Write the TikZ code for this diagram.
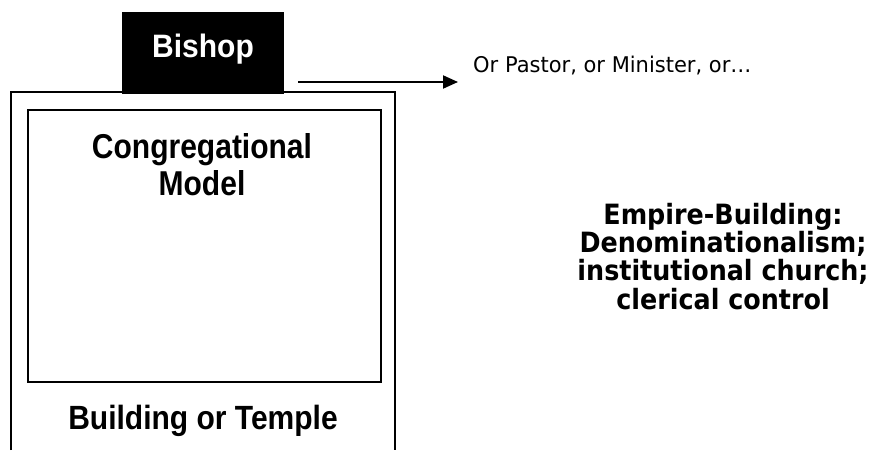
\documentclass[tikz,border=0pt]{standalone}
\usepackage{fontspec}
\usepackage{graphicx}
\setmainfont{Liberation Sans}
\newfontfamily\verd{DejaVu Sans}
\newcommand{\vstretch}[2]{\scalebox{1}[#1]{#2}}
\usetikzlibrary{arrows.meta}
\begin{document}
\begin{tikzpicture}[x=1pt,y=-1pt,
  boxline/.style={draw=black,line width=2pt},
  arialbig/.style={font=\fontsize{30}{37}\selectfont\bfseries,inner sep=0pt,align=center},
]
\useasboundingbox[fill=white] (0,0) rectangle (881,450);
% outer building (open at bottom)
\draw[boxline] (11,450) -- (11,92) -- (395,92) -- (395,450);
% inner box
\node[boxline,minimum width=353pt,minimum height=272pt,inner sep=0pt,anchor=north west] (inner) at (27,109) {};
% bishop
\node[fill=black,minimum width=162pt,minimum height=82pt,inner sep=0pt,anchor=north west] (bishopbox) at (122,12) {};
\node[arialbig,text=white,anchor=base] (bishop) at (203,57) {\vstretch{1.08}{Bishop}};
% labels
\node[arialbig,anchor=base] (cong) at (202,195) {\vstretch{1.15}{Congregational}\\\vstretch{1.15}{Model}};
\node[arialbig,anchor=base] (bldg) at (203,429) {\vstretch{1.12}{Building or Temple}};
% arrow
\coordinate (a1) at (298,82);
\coordinate (a2) at (458,82);
\draw[line width=2pt,-{Triangle[length=15pt,width=13pt]}] (a1) -- (a2);
\node[font=\verd\fontsize{21}{24}\selectfont,anchor=base west,inner sep=0pt] (pastor) at (473,72) {\vstretch{1.03}{Or Pastor, or Minister, or…}};
\node[font=\verd\fontsize{25.4}{28.2}\selectfont\bfseries,anchor=base,align=center,inner sep=0pt] (empire) at (723,309) {\vstretch{1.1}{Empire-Building:}\\\vstretch{1.1}{Denominationalism;}\\\vstretch{1.1}{institutional church;}\\\vstretch{1.1}{clerical control}};
\end{tikzpicture}
\end{document}
